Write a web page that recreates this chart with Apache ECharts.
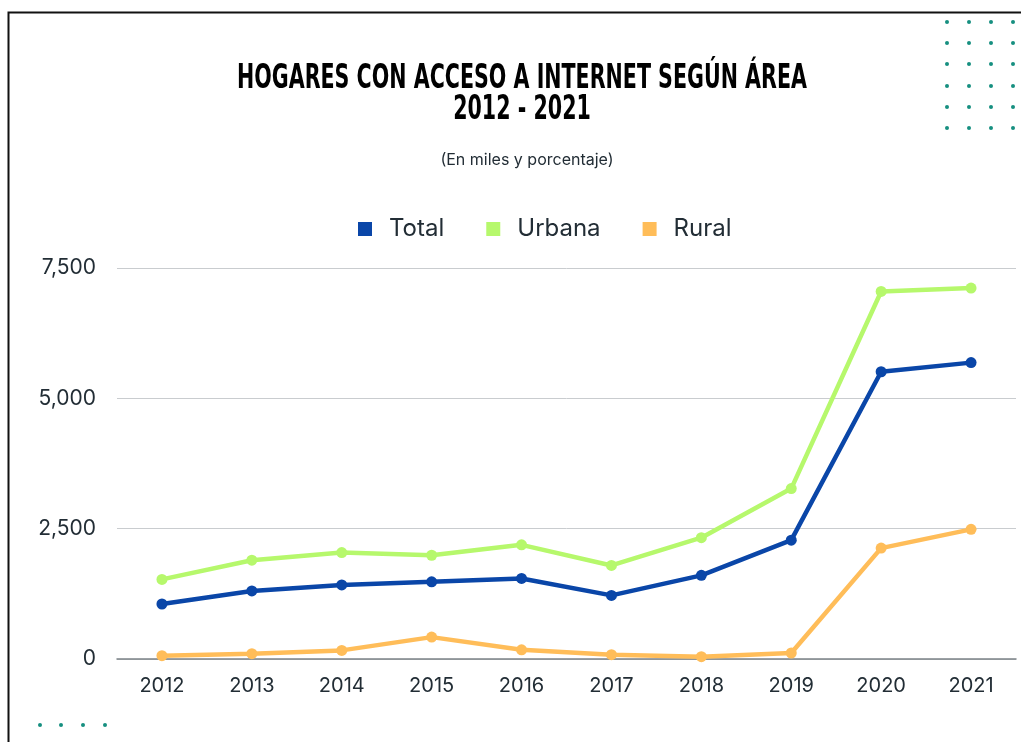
<!DOCTYPE html>
<html>
<head>
<meta charset="utf-8">
<script src="https://cdn.jsdelivr.net/npm/echarts@6/dist/echarts.min.js"></script>
<style>
html,body{margin:0;padding:0;background:#fff;}
#c{width:1021px;height:742px;}
</style>
</head>
<body>
<div id="c"></div>
<script>
const years = ['2012','2013','2014','2015','2016','2017','2018','2019','2020','2021'];
const total = [1055, 1305, 1420, 1480, 1545, 1220, 1605, 2280, 5510, 5685];
const urbana = [1527, 1895, 2042, 1990, 2190, 1794, 2327, 3269, 7050, 7115];
const rural = [63, 101, 165, 420, 176, 83, 44, 115, 2127, 2487];
const yTicks = [0, 2500, 5000, 7500];

const titleLine1 = 'HOGARES CON ACCESO A INTERNET SEGÚN ÁREA';
const titleLine2 = '2012 - 2021';
const subText = '(En miles y porcentaje)';

const colTotal = '#0a46a8';
const colUrb = '#b6f86c';
const colRur = '#ffbd59';
const txt = '#222d35';
const font = "Inter, 'Open Sans', sans-serif";
const titleFont = "900 29px 'DejaVu Sans Condensed', 'DejaVu Sans', sans-serif";

const dots = [];
[947, 969, 991, 1013].forEach(x => {
  [22, 43, 64, 86, 107, 128].forEach(y => {
    dots.push({type:'circle', shape:{cx:x, cy:y, r:2}, style:{fill:'#168f80'}, silent:true});
  });
});
[40, 61, 83, 105].forEach(x => {
  dots.push({type:'circle', shape:{cx:x, cy:725, r:2}, style:{fill:'#168f80'}, silent:true});
});

const chart = echarts.init(document.getElementById('c'), null, {renderer:'canvas'});
chart.setOption({
  backgroundColor: '#fff',
  animation: false,
  title: [{
    text: subText,
    left: 522, top: 147, textAlign: 'center',
    textStyle: {fontFamily: font, fontWeight: 'normal', fontSize: 16, color: txt}
  }],
  legend: {
    top: 212, left: 353,
    itemWidth: 14, itemHeight: 14, itemGap: 42,
    icon: 'rect',
    textStyle: {fontFamily: font, fontSize: 24, color: txt, padding:[0,0,0,12]},
    data: ['Total','Urbana','Rural']
  },
  grid: {left: 117, right: 5, top: 268, bottom: 83, containLabel: false},
  xAxis: {
    type: 'category', data: years, boundaryGap: true,
    axisLine: {lineStyle: {color: '#7c8288', width: 1.5}},
    axisTick: {show: false},
    axisLabel: {fontFamily: font, fontSize: 20, color: txt, margin: 17}
  },
  yAxis: {
    type: 'value', min: yTicks[0], max: yTicks[yTicks.length-1], interval: 2500,
    axisLine: {show: false}, axisTick: {show: false},
    splitLine: {lineStyle: {color: '#c9cccf', width: 1}},
    axisLabel: {fontFamily: font, fontSize: 21, color: txt, margin: 21,
      formatter: v => v.toLocaleString('en-US')}
  },
  series: [
    {name:'Total', type:'line', data: total, color: colTotal, symbol:'circle', symbolSize: 11, lineStyle:{width:4.5}, z:3},
    {name:'Urbana', type:'line', data: urbana, color: colUrb, symbol:'circle', symbolSize: 11, lineStyle:{width:4.5}, z:2},
    {name:'Rural', type:'line', data: rural, color: colRur, symbol:'circle', symbolSize: 11, lineStyle:{width:4.5}, z:2}
  ],
  graphic: [
    {type:'polyline', shape:{points:[[8.5,742],[8.5,12.5],[1021,12.5]]}, style:{stroke:'#111', lineWidth:2, fill:null}, silent:true},
    {type:'text', x:522, y:79, scaleX:0.79, scaleY:1.15, originX:0, originY:0,
      style:{text:titleLine1, font:titleFont, fill:'#000', align:'center', verticalAlign:'middle'}, silent:true},
    {type:'text', x:522, y:110, scaleX:0.79, scaleY:1.15, originX:0, originY:0,
      style:{text:titleLine2, font:titleFont, fill:'#000', align:'center', verticalAlign:'middle'}, silent:true}
  ].concat(dots)
});
</script>
</body>
</html>
